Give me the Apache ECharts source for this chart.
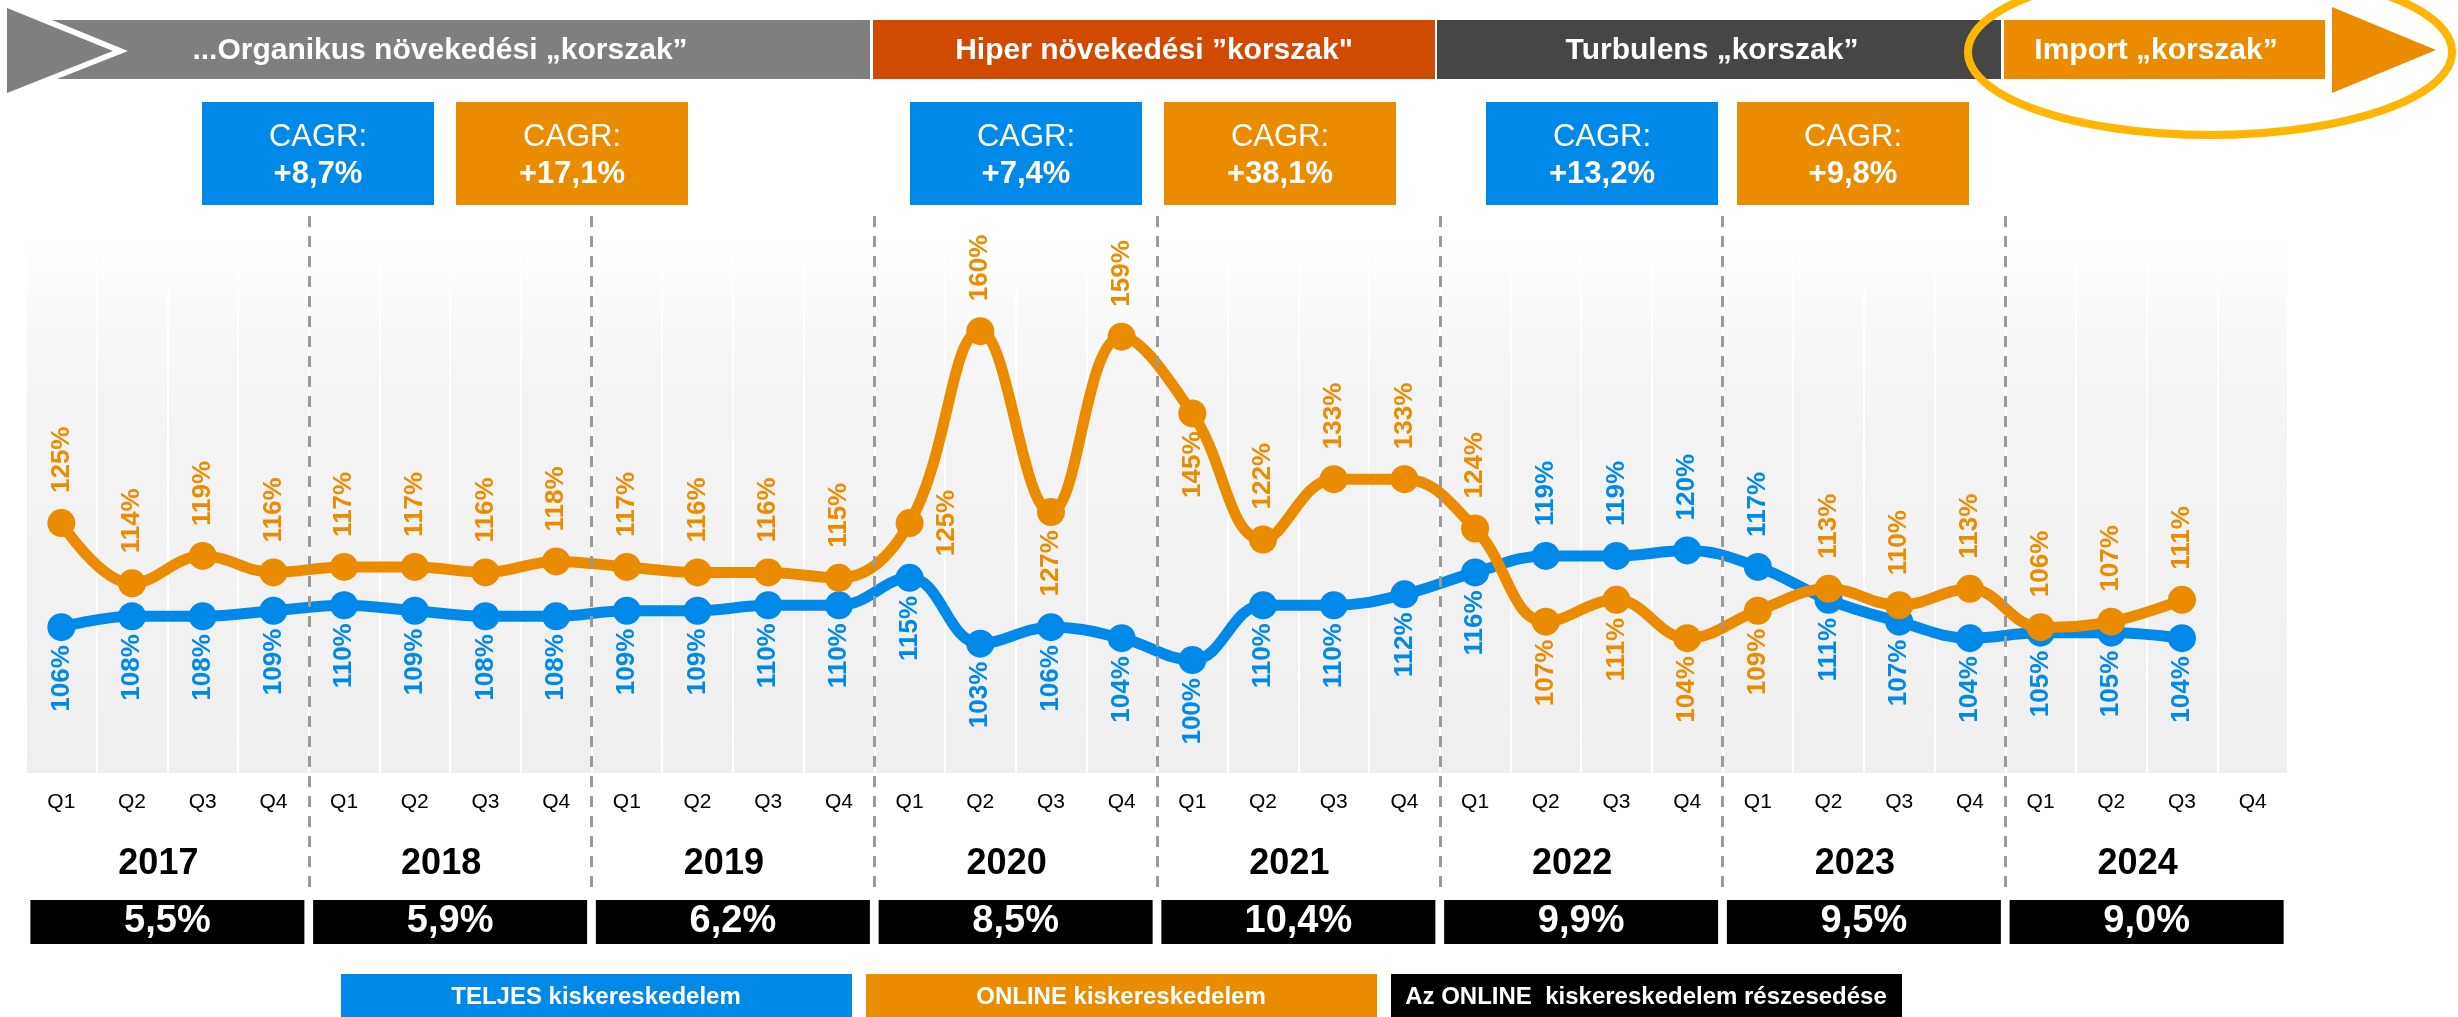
<!DOCTYPE html>
<html><head><meta charset="utf-8">
<script src="https://cdn.jsdelivr.net/npm/echarts@6/dist/echarts.min.js"></script>
<style>html,body{margin:0;padding:0;background:#fff}#c{width:2458px;height:1017px}</style>
</head><body><div id="c"></div>
<script>
// ---- data ----
const years = ['2017','2018','2019','2020','2021','2022','2023','2024'];
const quarters = ['Q1','Q2','Q3','Q4','Q1','Q2','Q3','Q4','Q1','Q2','Q3','Q4','Q1','Q2','Q3','Q4',
                  'Q1','Q2','Q3','Q4','Q1','Q2','Q3','Q4','Q1','Q2','Q3','Q4','Q1','Q2','Q3','Q4'];
const teljes = [106,108,108,109, 110,109,108,108, 109,109,110,110, 115,103,106,104,
                100,110,110,112, 116,119,119,120, 117,111,107,104, 105,105,104,null];
const online = [125,114,119,116, 117,117,116,118, 117,116,116,115, 125,160,127,159,
                145,122,133,133, 124,107,111,104, 109,113,110,113, 106,107,111,null];
const onlineShare = ['5,5%','5,9%','6,2%','8,5%','10,4%','9,9%','9,5%','9,0%'];
const eras = ['...Organikus növekedési „korszak”','Hiper növekedési ”korszak"','Turbulens „korszak”','Import „korszak”'];
const cagrTitle = 'CAGR:';
const cagrTeljes = ['+8,7%','+7,4%','+13,2%'];
const cagrOnline = ['+17,1%','+38,1%','+9,8%'];
const legendNames = ['TELJES kiskereskedelem','ONLINE kiskereskedelem','Az ONLINE  kiskereskedelem részesedése'];

// ---- styles / layout ----
const BLUE = '#0089E9', ORANGE = '#EB8C00', FONT = 'Liberation Sans, Arial, sans-serif';
const GL = 26, GW = 2262;
const blueLabelPos = {21:'top',22:'top',23:'top',24:'top'};
const orangeLabelPos = {12:'right',14:'bottom',16:'bottom',21:'bottom',22:'bottom',23:'bottom',24:'bottom'};
function labelCfg(pos){
  if (pos === 'top') return {position:'top', distance:16, align:'left', verticalAlign:'middle'};
  if (pos === 'right') return {position:'right', distance:10, align:'center', verticalAlign:'top'};
  return {position:'bottom', distance:4, align:'right', verticalAlign:'middle'};
}
function seriesData(arr, posMap, def){
  return arr.map((v,i) => v == null ? '-' : ({value:v, label: labelCfg(posMap[i] || def)}));
}

const chart = echarts.init(document.getElementById('c'), null, {renderer:'canvas'});

const graphics = [];
function txt(text, x, y, size, weight, color){
  return {type:'text', z:20, style:{text, x, y, fill:color||'#fff', font: (weight||'normal')+' '+size+'px '+FONT,
    align:'center', verticalAlign:'middle', textAlign:'center', textVerticalAlign:'middle'}};
}
// era banners
const eraRects = [[8,870,'#7F7F7F'],[873,1435,'#D04A02'],[1437,2001,'#464646'],[2004,2325,'#EB8C00']];
eraRects.forEach((r,i) => {
  if (i === 0) {
    graphics.push({type:'polygon', z:10, shape:{points:[[52,20],[r[1],20],[r[1],79],[57,79],[128,51]]}, style:{fill:r[2]}});
    graphics.push({type:'polygon', z:10, shape:{points:[[7,8],[7,93],[113,51]]}, style:{fill:r[2]}});
  } else {
    graphics.push({type:'rect', z:10, shape:{x:r[0], y:20, width:r[1]-r[0], height:59}, style:{fill:r[2]}});
  }
});
graphics.push({type:'polygon', z:10, shape:{points:[[2332,7],[2332,93],[2436,50]]}, style:{fill:'#EB8C00'}});
const eraTextX = [440, 1154, 1712, 2156];
eras.forEach((e,i) => graphics.push(txt(e, eraTextX[i], 51, 30, 'bold')));
graphics.push({type:'ellipse', z:25, shape:{cx:2210, cy:52, rx:242, ry:83}, style:{fill:'none', stroke:'#FFB600', lineWidth:8}});
// CAGR boxes
const cagrX = [202,910,1486];
cagrX.forEach((x,i) => {
  [[x, BLUE, cagrTeljes[i]], [x + (i===2?251:254), ORANGE, cagrOnline[i]]].forEach(b => {
    graphics.push({type:'rect', z:10, shape:{x:b[0], y:102, width:232, height:103}, style:{fill:b[1]}});
    graphics.push(txt(cagrTitle, b[0]+116, 137, 31, 'normal'));
    graphics.push(txt(b[2], b[0]+116, 174, 31, 'bold'));
  });
});
// legend boxes
const legX = [341, 866, 1391], legC = [BLUE, ORANGE, '#000'];
legendNames.forEach((n,i) => {
  graphics.push({type:'rect', z:10, shape:{x:legX[i], y:974, width:511, height:43}, style:{fill:legC[i]}});
  graphics.push(txt(n, legX[i]+255, 997, 24, 'bold'));
});

const option = {
  animation:false,
  backgroundColor:'#fff',
  textStyle:{fontFamily:FONT},
  grid:[
    {left:GL, width:GW, top:238, height:535, show:true, borderWidth:0,
     backgroundColor:{type:'linear', x:0, y:0, x2:0, y2:1, colorStops:[
       {offset:0, color:'#ffffff'},{offset:0.3, color:'#f4f4f4'},{offset:1, color:'#efefef'}]}},
    {left:GL, width:GW, top:215, height:672},
    {left:GL, width:GW, top:900, height:44}
  ],
  xAxis:[
    {type:'category', gridIndex:0, data:quarters, boundaryGap:true,
     axisLine:{show:false}, axisTick:{show:false},
     axisLabel:{fontSize:21, color:'#000', margin:19, fontFamily:FONT},
     splitLine:{show:true, lineStyle:{color:'#ffffff', width:2}}},
    {type:'value', gridIndex:1, min:-0.5, max:31.5, show:false},
    {type:'category', gridIndex:2, data:years, position:'top', boundaryGap:true,
     axisLine:{show:false}, axisTick:{show:false},
     axisLabel:{fontSize:36, fontWeight:'bold', color:'#000', margin:18, fontFamily:FONT, padding:[0,18,0,0]},
     splitLine:{show:false}}
  ],
  yAxis:[
    {type:'value', gridIndex:0, min:79.4, max:177, show:false},
    {type:'value', gridIndex:1, min:0, max:1, show:false},
    {type:'value', gridIndex:2, min:0, max:1, show:false}
  ],
  series:[
    {type:'line', xAxisIndex:1, yAxisIndex:1, data:[], z:1, silent:true,
     markLine:{silent:true, symbol:['none','none'], label:{show:false},
       lineStyle:{type:[11,9], color:'#9a9a9a', width:3},
       data:[3.5,7.5,11.5,15.5,19.5,23.5,27.5].map(x => ({xAxis:x}))}},
    {type:'line', name:legendNames[0], xAxisIndex:0, yAxisIndex:0, z:3,
     data: seriesData(teljes, blueLabelPos, 'bottom'), smooth:0.4,
     symbol:'circle', symbolSize:28, lineStyle:{width:11, color:BLUE}, itemStyle:{color:BLUE},
     label:{show:true, rotate:90, fontSize:26, fontWeight:'bold', color:BLUE, fontFamily:FONT, formatter: p => p.value + '%'},
     emphasis:{disabled:true}},
    {type:'line', name:legendNames[1], xAxisIndex:0, yAxisIndex:0, z:4,
     data: seriesData(online, orangeLabelPos, 'top'), smooth:0.4,
     symbol:'circle', symbolSize:28, lineStyle:{width:11, color:ORANGE}, itemStyle:{color:ORANGE},
     label:{show:true, rotate:90, fontSize:26, fontWeight:'bold', color:ORANGE, fontFamily:FONT, formatter: p => p.value + '%'},
     emphasis:{disabled:true}},
    {type:'bar', name:legendNames[2], xAxisIndex:2, yAxisIndex:2, data: onlineShare.map(() => 1), barWidth:274,
     itemStyle:{color:'#000'},
     label:{show:true, position:'inside', color:'#fff', fontSize:38, fontWeight:'bold', fontFamily:FONT,
       formatter: p => onlineShare[p.dataIndex]},
     emphasis:{disabled:true}}
  ],
  graphic: graphics
};
chart.setOption(option);
</script></body></html>
